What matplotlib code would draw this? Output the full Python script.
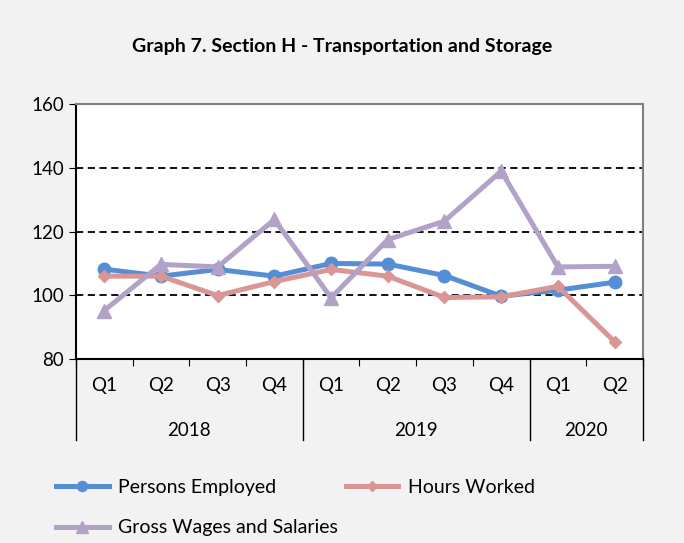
import numpy as np
import matplotlib
matplotlib.use("Agg")
import matplotlib.pyplot as plt
from matplotlib.lines import Line2D

plt.rcParams['font.family'] = ['Lato', 'DejaVu Sans']

quarters = ["Q1", "Q2", "Q3", "Q4", "Q1", "Q2", "Q3", "Q4", "Q1", "Q2"]
years = ["2018", "2019", "2020"]
year_sizes = [4, 4, 2]

persons_employed = [108.2, 106.0, 108.1, 106.0, 110.0, 109.8, 106.2, 99.7, 101.6, 104.1]
hours_worked = [106.0, 106.0, 99.9, 104.3, 108.1, 106.0, 99.3, 99.5, 102.8, 85.4]
gross_wages = [95.2, 109.7, 108.9, 123.8, 99.2, 117.5, 123.3, 139.0, 108.9, 109.1]

fig = plt.figure(figsize=(6.84, 5.43), dpi=100, facecolor="#F2F2F2")
ax = fig.add_axes([0.111, 0.339, 0.829, 0.469])
ax.set_facecolor("white")

x = np.arange(len(quarters))
l1, = ax.plot(x, persons_employed, color="#558ED5", lw=3.6, marker="o", ms=9,
              label="Persons Employed", zorder=3)
l2, = ax.plot(x, hours_worked, color="#D99694", lw=3.6, marker="D", ms=6,
              label="Hours Worked", zorder=3)
l3, = ax.plot(x, gross_wages, color="#B3A2C7", lw=3.6, marker="^", ms=10,
              label="Gross Wages and Salaries", zorder=3)

for yv in (100, 120, 140):
    ax.axhline(yv, color="black", ls=(0, (4, 2.5)), lw=1.3, zorder=1)

ax.set_xlim(-0.5, len(quarters) - 0.5)
ax.set_ylim(80, 160)
ax.set_yticks([80, 100, 120, 140, 160])
ax.tick_params(axis="y", labelsize=13.5, length=5, direction="out", color="black")
ax.set_xticks(np.arange(len(quarters) + 1) - 0.5)
ax.set_xticklabels([])
ax.tick_params(axis="x", length=5, direction="out", color="black")

ax.spines["left"].set_color("black")
ax.spines["bottom"].set_color("black")
ax.spines["top"].set_color("#7F7F7F")
ax.spines["right"].set_color("#7F7F7F")
for s in ax.spines.values():
    s.set_linewidth(1.5)

trans = ax.get_xaxis_transform()
for i, q in enumerate(quarters):
    ax.text(i, -0.105, q, transform=trans, ha="center", va="center", fontsize=13.5)

start = 0
bounds = [-0.5]
for yr, n in zip(years, year_sizes):
    ax.text(start + (n - 1) / 2, -0.28, yr, transform=trans, ha="center",
            va="center", fontsize=13.5)
    start += n
    bounds.append(start - 0.5)
for b in bounds:
    ax.add_line(Line2D([b, b], [0, -0.32], transform=trans, color="black",
                       lw=1.0, clip_on=False))

fig.text(0.5, 0.915, "Graph 7. Section H - Transportation and Storage",
         ha="center", va="center", fontsize=14, fontweight="bold")

fig.legend(handles=[l1, l3, l2], loc="lower left", bbox_to_anchor=(0.082, 0.012),
           ncol=2, frameon=False, fontsize=14, handlelength=2.7,
           columnspacing=0.4, labelspacing=1.2, handletextpad=0.5,
           borderpad=0, borderaxespad=0, markerscale=0.8)

fig.savefig("out.png", dpi=100, facecolor=fig.get_facecolor())
